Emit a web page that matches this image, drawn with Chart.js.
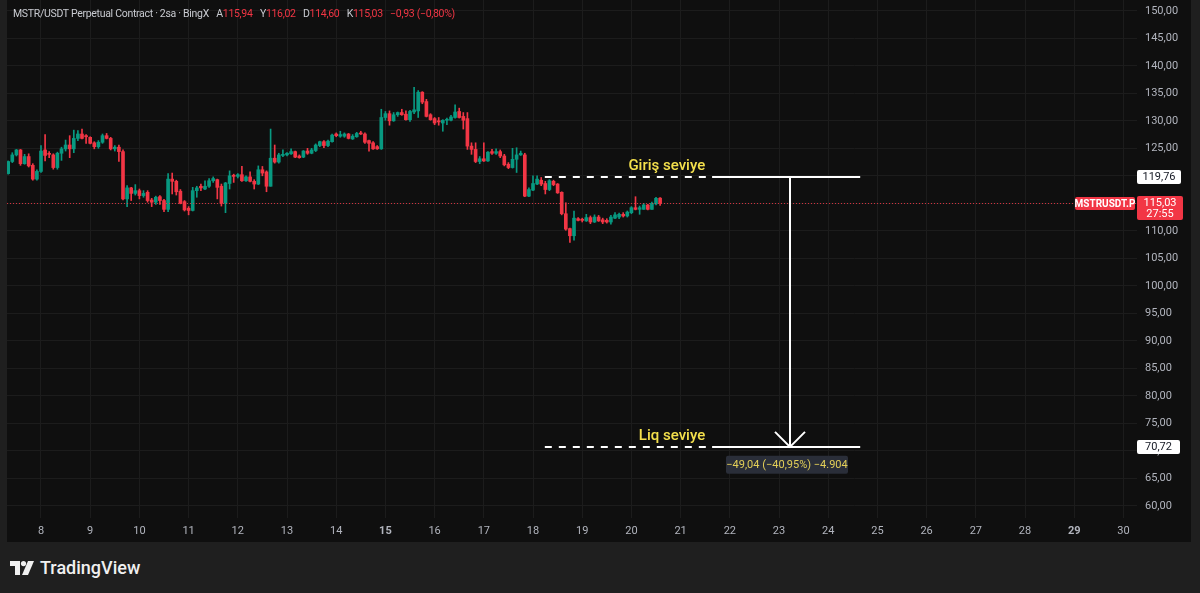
<!DOCTYPE html>
<html>
<head>
<meta charset="utf-8">
<script src="https://cdn.jsdelivr.net/npm/chart.js@4.4.1/dist/chart.umd.min.js"></script>
<style>
  html, body { margin: 0; padding: 0; width: 1200px; height: 593px; overflow: hidden; background: #1f1f1f; font-family: Roboto, "Liberation Sans", sans-serif; }
  #pane { position: absolute; left: 7px; top: 0; width: 1184px; height: 542px; background: #0f0f0f; }
  #legend { position: absolute; left: 13px; top: 7px; font-size: 10.5px; letter-spacing: -0.3px; color: #c9cbd1; white-space: nowrap; }
  #legend .r { color: #f23645; }
  #legend .g { margin-left: 5px; }
  #logo { position: absolute; left: 10px; top: 557px; color: #f0f0f0; font-size: 18px; font-weight: 500; display: flex; align-items: center; }
  #logo svg { margin-right: 6px; }
</style>
</head>
<body>
<div id="pane"><canvas id="chart" width="1184" height="542"></canvas></div>
<div id="legend">MSTR/USDT Perpetual Contract · 2sa · BingX
  <span class="g">A<span class="r">115,94</span></span>
  <span class="g">Y<span class="r">116,02</span></span>
  <span class="g">D<span class="r">114,60</span></span>
  <span class="g">K<span class="r">115,03</span></span>
  <span class="g r">−0,93 (−0,80%)</span>
</div>
<div id="logo">
  <svg width="24" height="14" viewBox="0 0 24 14">
    <path d="M0 0h10v14h-5v-9h-5z" fill="#f0f0f0"/>
    <circle cx="13.5" cy="2.6" r="2.6" fill="#f0f0f0"/>
    <path d="M18 0h6l-6 14h-6z" fill="#f0f0f0"/>
  </svg>
  TradingView
</div>
<script>
// 2h bars, first one opens 7 Jul 08:00 (x axis is in days of the month)
const startDay = 7 + 8 / 24;
const barStep = 2 / 24;

const opens = [
  120.4,122.6,123.8,124.7,122.2,123.5,121.9,119.4,120.8,124.7,
  124.0,123.8,121.5,124.1,124.9,125.6,124.9,126.8,127.6,127.3,
  127.0,126.0,125.3,126.1,127.3,126.8,124.9,125.2,124.4,115.8,
  117.8,116.8,117.3,116.4,117.0,115.6,115.2,116.2,115.5,113.9,
  119.4,119.0,117.2,115.3,114.1,113.7,117.3,118.1,117.6,118.1,
  119.1,119.3,118.1,115.0,118.6,120.1,119.9,120.2,119.1,119.8,
  119.0,118.5,121.1,120.7,118.1,123.2,122.5,123.7,123.8,124.0,
  124.4,123.6,123.4,124.5,124.1,124.6,125.5,126.2,125.5,126.2,
  127.6,127.2,127.2,127.6,126.7,127.1,127.8,127.6,126.4,126.0,
  125.3,124.9,130.6,131.3,130.0,131.1,131.5,131.2,130.2,131.6,
  131.8,135.2,133.5,131.1,130.4,130.0,129.6,130.1,130.1,130.6,
  131.7,130.8,130.4,125.4,124.8,122.6,123.1,122.7,124.4,124.1,
  124.4,123.6,122.1,121.5,123.0,123.8,123.8,116.3,117.4,118.5,
  119.2,118.6,117.5,119.0,118.5,117.0,113.1,110.4,109.1,112.2,
  112.1,111.8,112.4,111.6,112.5,112.0,111.9,111.6,112.3,112.5,
  113.0,112.7,113.3,114.2,113.9,113.9,114.7,113.9,114.9,115.94
];
const highs = [
  122.7,124.2,124.8,124.8,123.9,124.0,122.2,121.1,125.5,127.5,
  124.4,124.0,124.3,125.2,126.5,127.3,128.3,128.2,128.5,127.5,
  127.1,126.2,126.4,127.6,127.7,127.0,125.5,125.6,124.7,118.2,
  117.9,118.4,117.6,117.3,117.3,115.9,116.3,116.4,115.7,120.4,
  120.5,119.2,117.5,115.5,114.4,117.9,118.1,118.5,119.1,119.5,
  119.8,119.4,118.5,118.8,120.9,120.3,120.4,121.7,120.0,120.7,
  119.3,121.8,121.7,120.9,128.5,125.6,124.1,124.7,124.2,124.9,
  124.5,123.8,124.6,125.0,125.0,125.8,126.3,126.4,126.5,127.6,
  127.8,128.1,127.8,127.7,127.5,127.9,128.1,127.8,126.5,126.2,
  125.5,132.1,131.7,131.8,131.5,131.6,132.1,131.8,131.9,136.1,
  135.5,135.3,133.9,131.3,130.6,130.6,130.2,130.5,131.0,132.9,
  132.3,131.5,131.5,126.0,126.0,123.5,126.0,124.4,124.8,124.9,
  124.7,123.9,122.4,125.0,125.1,124.5,124.1,117.8,120.0,120.0,
  119.7,119.0,119.3,119.2,118.6,117.1,115.1,110.5,113.6,112.4,
  112.3,113.0,112.7,112.9,112.8,112.3,112.2,112.8,113.3,113.2,
  113.3,113.6,114.4,116.2,114.5,115.0,114.8,115.2,116.1,116.02
];
const lows = [
  120.3,122.4,123.6,121.9,122.1,121.6,119.2,119.2,120.6,122.7,
  123.3,121.2,121.2,122.8,124.5,123.3,124.2,126.4,126.7,125.9,
  125.8,124.9,125.0,125.9,126.7,124.7,124.5,122.6,115.6,114.4,
  115.5,116.5,115.8,116.1,115.2,114.4,114.8,114.8,113.5,113.5,
  116.7,116.5,114.9,113.6,112.9,113.6,116.1,117.3,117.5,117.9,
  118.8,115.8,114.5,113.3,117.6,118.8,119.6,119.0,119.0,118.9,
  117.6,118.4,120.0,117.1,118.1,122.3,122.3,123.5,123.6,123.9,
  123.3,123.2,123.3,123.9,124.0,124.4,125.3,125.1,125.3,126.1,
  127.1,127.0,127.0,126.7,126.6,127.0,127.5,125.9,124.5,124.8,
  124.8,124.8,130.1,129.2,129.9,130.8,131.0,130.1,129.9,131.3,
  130.6,133.1,130.7,130.1,129.3,129.2,128.1,129.3,130.0,130.5,
  130.5,128.5,124.8,123.9,122.4,122.2,122.6,122.6,123.9,123.9,
  123.3,121.8,121.3,121.4,120.6,123.7,116.2,116.2,117.3,118.4,
  118.2,116.7,117.3,118.2,116.8,112.9,110.1,107.9,108.3,111.8,
  111.6,111.7,111.3,111.5,111.7,111.3,111.4,111.2,112.2,112.2,
  112.5,112.5,113.1,113.8,113.0,113.9,113.8,113.9,114.7,114.60
];
const closes = [
  122.6,123.8,124.7,122.2,123.5,121.8,119.4,120.8,124.5,123.7,
  123.9,121.5,124.1,124.9,125.6,124.9,126.8,127.6,126.8,127.1,
  125.9,125.3,126.1,127.3,126.8,124.9,125.2,124.4,115.8,117.8,
  116.8,117.3,116.4,116.8,115.5,115.2,116.1,115.5,113.9,119.4,
  119.0,117.1,115.0,113.8,113.7,117.3,117.8,117.8,118.1,119.1,
  119.5,117.9,115.0,118.7,120.0,119.9,120.2,119.1,119.8,119.0,
  118.5,121.1,120.5,118.1,123.2,122.5,123.8,123.9,124.1,124.4,
  123.4,123.3,124.5,124.1,124.7,125.6,126.2,125.5,126.3,127.4,
  127.3,127.5,127.6,126.8,127.2,127.7,127.6,126.1,125.9,124.9,
  124.9,130.6,131.3,130.0,131.1,131.5,131.1,130.2,131.7,132.0,
  135.2,133.4,130.8,130.2,129.6,129.8,130.1,130.2,130.7,131.6,
  130.6,130.1,125.4,124.8,122.6,123.1,122.7,124.3,124.1,124.4,
  123.6,122.0,121.5,123.0,123.8,124.1,116.3,117.5,118.6,119.4,
  118.5,117.5,119.1,118.4,116.9,113.1,110.3,109.1,112.3,111.9,
  111.9,112.4,111.6,112.5,111.8,111.6,111.6,112.5,112.9,113.0,
  112.7,113.4,114.2,113.9,114.2,114.7,113.9,115.0,115.9,115.03
];

const priceTicks = [60,65,70,75,80,85,90,95,100,105,110,115,120,125,130,135,140,145,150];
const dayTicks = [8,9,10,11,12,13,14,15,16,17,18,19,20,21,22,23,24,25,26,27,28,29,30];
const boldDays = [15, 29];

const lastPrice = 115.03;
const entryLevel = 119.76;
const liqLevel = 70.72;
const changeText = '−49,04 (−40,95%) −4.904';

// drawing tool placement (in days)
const dashFrom = 18.24, dashTo = 21.64, solidTo = 24.65, arrowDay = 23.22, textRight = 21.5;

const up = '#089981', down = '#f23645';
const times = opens.map((_, i) => startDay + i * barStep);
const colors = opens.map((o, i) => closes[i] >= o ? up : down);

const fontFamily = 'Roboto, "Liberation Sans", sans-serif';
Chart.defaults.font.family = fontFamily;

function fmt(v) {
  return v.toFixed(2).replace('.', ',');
}

function line(ctx, x1, y1, x2, y2) {
  ctx.beginPath();
  ctx.moveTo(x1, y1);
  ctx.lineTo(x2, y2);
  ctx.stroke();
}

function tagBox(ctx, x, y, w, h, fill, text, color, font) {
  ctx.fillStyle = fill;
  ctx.beginPath();
  ctx.roundRect(x, y, w, h, 2);
  ctx.fill();
  ctx.fillStyle = color;
  ctx.font = font;
  ctx.textAlign = 'center';
  ctx.textBaseline = 'middle';
  ctx.fillText(text, x + w / 2, y + h / 2 + 0.5);
}

// no label padding: the plot area has to fill the pane exactly
function noPad(s) {
  s.paddingTop = 0;
  s.paddingBottom = 0;
  s.paddingLeft = 0;
  s.paddingRight = 0;
}

const overlay = {
  id: 'overlay',
  afterDatasetsDraw(chart) {
    const { ctx, chartArea: a, scales: { x, y } } = chart;
    ctx.save();

    // last price line
    ctx.strokeStyle = 'rgba(242,54,69,0.85)';
    ctx.lineWidth = 1;
    ctx.setLineDash([1, 2]);
    const py = Math.round(y.getPixelForValue(lastPrice)) + 0.5;
    line(ctx, a.left, py, a.right, py);

    // entry / liquidation levels
    ctx.strokeStyle = '#ffffff';
    ctx.lineWidth = 2;
    [entryLevel, liqLevel].forEach(v => {
      const yy = Math.round(y.getPixelForValue(v));
      ctx.setLineDash([7, 7]);
      line(ctx, x.getPixelForValue(dashFrom), yy, x.getPixelForValue(dashTo), yy);
      ctx.setLineDash([]);
      line(ctx, x.getPixelForValue(dashTo), yy, x.getPixelForValue(solidTo), yy);
    });

    // arrow
    const ax = Math.round(x.getPixelForValue(arrowDay));
    const y1 = y.getPixelForValue(entryLevel), y2 = y.getPixelForValue(liqLevel);
    line(ctx, ax, y1, ax, y2);
    ctx.beginPath();
    ctx.moveTo(ax - 15, y2 - 15);
    ctx.lineTo(ax, y2);
    ctx.lineTo(ax + 15, y2 - 15);
    ctx.stroke();

    // level texts
    ctx.fillStyle = '#f4e04c';
    ctx.font = '500 15px ' + fontFamily;
    ctx.textAlign = 'right';
    ctx.textBaseline = 'alphabetic';
    ctx.fillText('Giriş seviye', x.getPixelForValue(textRight), y1 - 7);
    ctx.fillText('Liq seviye', x.getPixelForValue(textRight), y2 - 7);

    // measure label
    tagBox(ctx, ax - 64, y2 + 9, 122, 18, '#2a2e39', changeText, '#e3cf58', '11px ' + fontFamily);

    ctx.restore();
  },
  afterDraw(chart) {
    const { ctx, chartArea: a, scales: { y } } = chart;
    ctx.save();
    const f = '11px ' + fontFamily;
    tagBox(ctx, a.right, Math.round(y.getPixelForValue(entryLevel)) - 7, 44, 14, '#ffffff', fmt(entryLevel), '#131722', f);
    tagBox(ctx, a.right, Math.round(y.getPixelForValue(liqLevel)) - 7, 43, 14, '#ffffff', fmt(liqLevel), '#131722', f);

    // last price tag with countdown
    const py = Math.round(y.getPixelForValue(lastPrice));
    ctx.fillStyle = down;
    ctx.beginPath();
    ctx.roundRect(a.right, py - 7, 46, 24, 2);
    ctx.fill();
    ctx.fillStyle = '#ffffff';
    ctx.font = f;
    ctx.textAlign = 'center';
    ctx.textBaseline = 'middle';
    ctx.fillText(fmt(lastPrice), a.right + 23, py);
    ctx.fillText('27:55', a.right + 23, py + 11);
    tagBox(ctx, a.right - 62, py - 6, 60, 13, down, 'MSTRUSDT.P', '#ffffff', 'bold 10px ' + fontFamily);
    ctx.restore();
  }
};

new Chart(document.getElementById('chart'), {
  type: 'bar',
  data: {
    datasets: [
      {
        label: 'wicks',
        data: times.map((t, i) => ({ x: t, y: [lows[i], highs[i]] })),
        backgroundColor: colors,
        barThickness: 1,
        grouped: false,
        minBarLength: 1
      },
      {
        label: 'bodies',
        data: times.map((t, i) => ({ x: t, y: [Math.min(opens[i], closes[i]), Math.max(opens[i], closes[i])] })),
        backgroundColor: colors,
        barThickness: 3,
        grouped: false,
        minBarLength: 1
      }
    ]
  },
  options: {
    responsive: false,
    animation: false,
    events: [],
    layout: { padding: 0 },
    plugins: { legend: { display: false }, tooltip: { enabled: false } },
    scales: {
      x: {
        type: 'linear',
        min: 7.309,
        max: 30.276,
        offset: false,
        afterBuildTicks: s => { s.ticks = dayTicks.map(v => ({ value: v })); },
        afterFit: s => { s.height = 24; noPad(s); },
        grid: { color: '#1c1c1c', drawTicks: false, offset: false },
        border: { display: false },
        ticks: {
          padding: 7,
          color: '#b2b5be',
          maxRotation: 0,
          autoSkip: false,
          callback: v => String(v),
          font: c => ({ size: 11, weight: boldDays.includes(c.tick && c.tick.value) ? 'bold' : 'normal' })
        }
      },
      y: {
        position: 'right',
        min: 57.782,
        max: 151.964,
        afterBuildTicks: s => { s.ticks = priceTicks.map(v => ({ value: v })); },
        afterFit: s => { s.width = 54; noPad(s); },
        grid: { color: '#1c1c1c', drawTicks: false },
        border: { display: false },
        ticks: {
          padding: 8,
          color: '#b2b5be',
          font: { size: 11 },
          callback: v => fmt(v)
        }
      }
    }
  },
  plugins: [overlay]
});
</script>
</body>
</html>
